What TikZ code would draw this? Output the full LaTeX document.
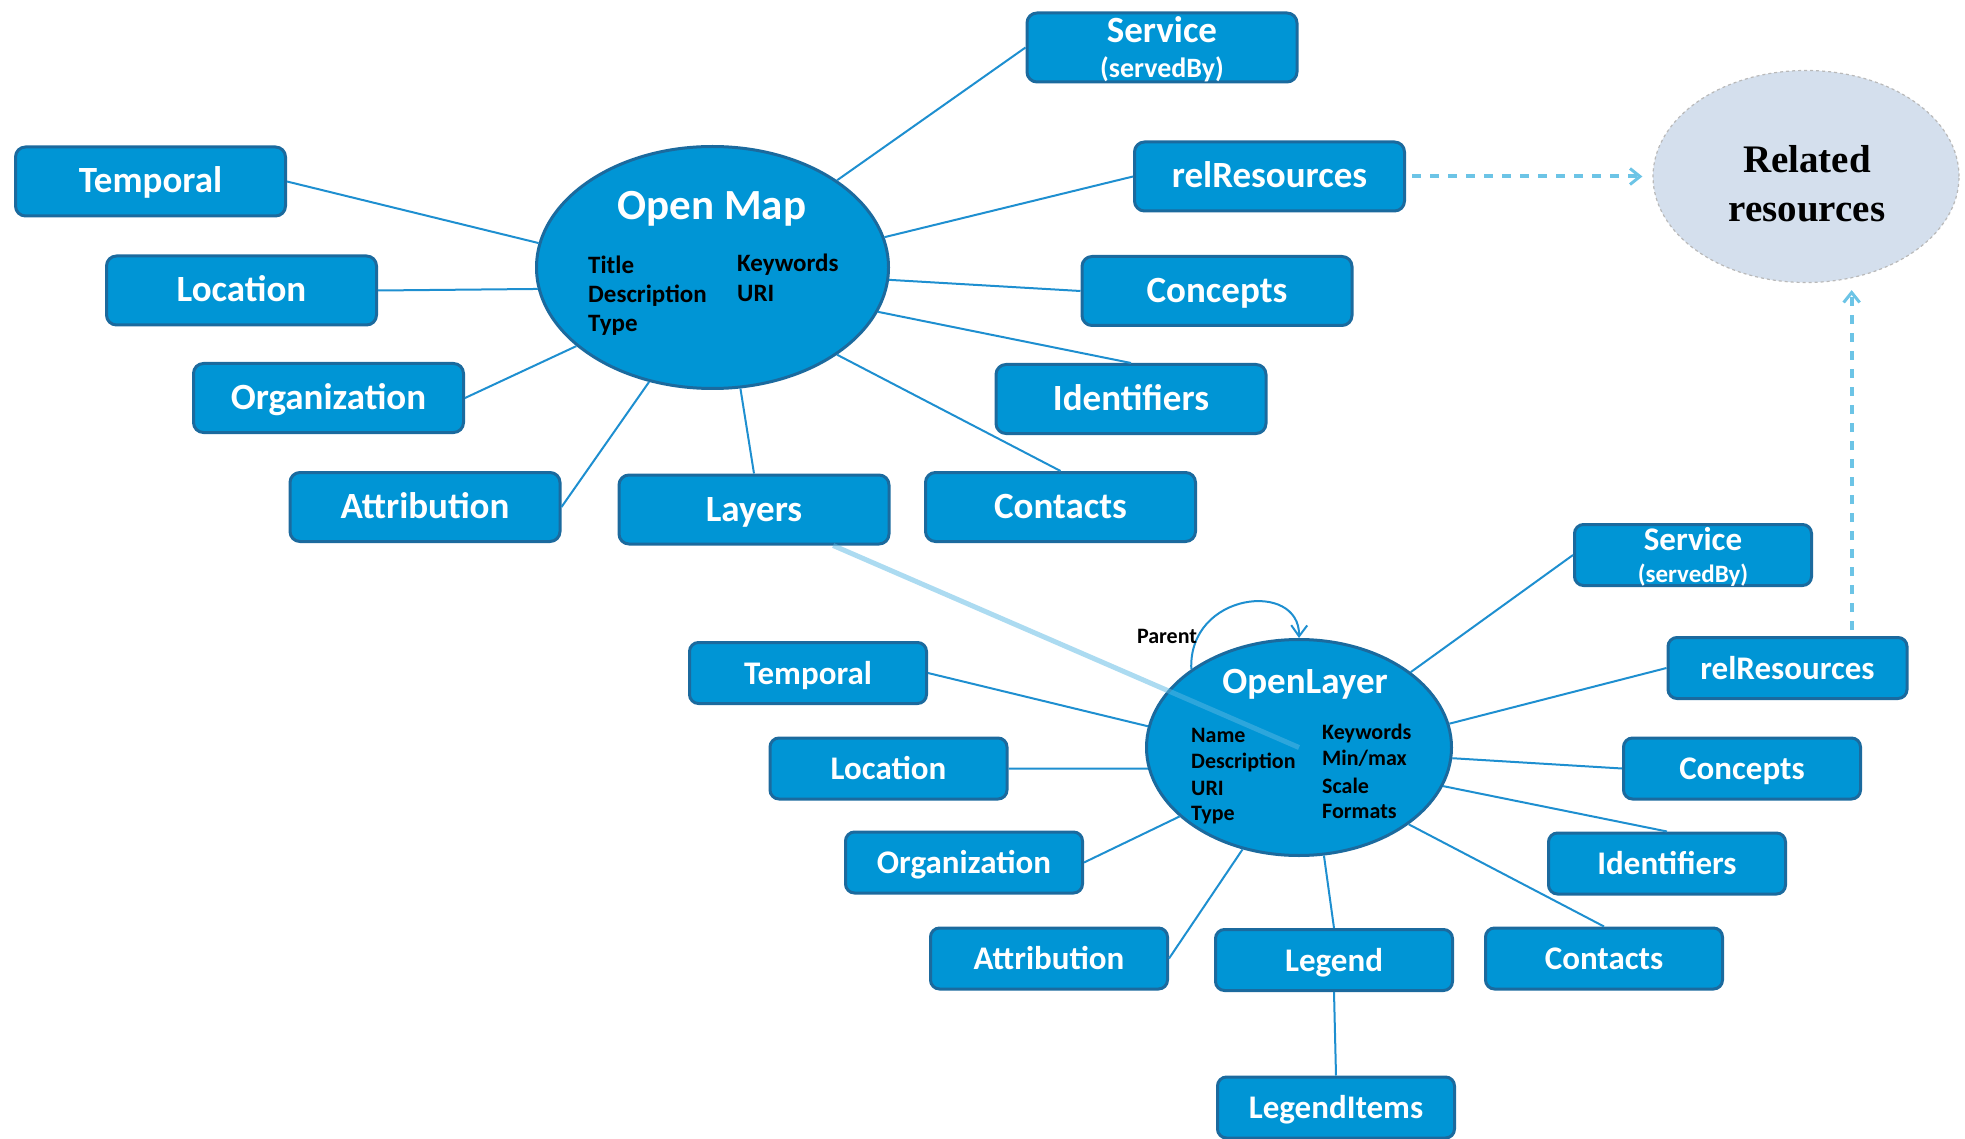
\documentclass[tikz,border=0pt]{standalone}
\usepackage{fontspec}
\setmainfont{Carlito}
\newfontfamily\serifbold{Liberation Serif}
\usetikzlibrary{shapes.geometric,arrows.meta,calc}
\definecolor{boxblue}{HTML}{0095D5}
\definecolor{boxedge}{HTML}{1B6A9E}
\definecolor{linkblue}{HTML}{1E8FD0}
\definecolor{dashblue}{HTML}{6CC4E6}
\definecolor{relfill}{HTML}{D4DFED}
\definecolor{layerlink}{HTML}{5AB8E3}
\begin{document}
\begin{tikzpicture}[x=1pt,y=-1pt,
  bigbox/.style={rectangle,rounded corners=10pt,fill=boxblue,draw=boxedge,line width=3pt,
    minimum width=270pt,minimum height=69pt,text=white,text height=30pt,text depth=7pt,
    font=\bfseries\fontsize{37}{40}\selectfont},
  smallbox/.style={rectangle,rounded corners=9pt,fill=boxblue,draw=boxedge,line width=3pt,
    minimum width=237pt,minimum height=61pt,text=white,text height=28pt,text depth=6pt,
    font=\bfseries\fontsize{33}{36}\selectfont},
  hub/.style={ellipse,fill=boxblue,draw=boxedge,line width=3pt,inner sep=0pt},
  link/.style={draw=linkblue,line width=2pt},
  dasharrow/.style={draw=dashblue,line width=4pt,dash pattern=on 9pt off 9pt,
    -{Straight Barb[length=10pt,width=16pt,line width=3pt]}},
  boxtext/.style={text=white,inner sep=0pt,anchor=base},
  itemA/.style={anchor=base west,inner sep=0pt,font=\bfseries\fontsize{25}{29}\selectfont},
  itemB/.style={anchor=base west,inner sep=0pt,font=\bfseries\fontsize{22}{26}\selectfont}]
\useasboundingbox (0,0) rectangle (1965,1139);

% ---------- Open Map hub ----------
\node[hub,minimum width=352pt,minimum height=242pt] (om) at (712.5,267.5) {};
\node[anchor=base,inner sep=0pt,text=white,font=\bfseries\fontsize{43}{47}\selectfont] (omtitle) at (712,220) {Open Map};
\node[itemA] (oma) at (588,274) {Title};
\node[itemA] (omb) at (588,303) {Description};
\node[itemA] (omc) at (588,332) {Type};
\node[itemA] (omd) at (737,272) {Keywords};
\node[itemA] (ome) at (737,302) {URI};

% ---------- boxes around Open Map ----------
\node[bigbox] (tservice) at (1162,47.5) {};
\node[boxtext,font=\bfseries\fontsize{37}{40}\selectfont] (tservicea) at (1162,43) {Service};
\node[boxtext,font=\bfseries\fontsize{28}{30}\selectfont] (tserviceb) at (1162,78) {(servedBy)};
\node[bigbox] (trel) at (1269.5,176.5) {relResources};
\node[bigbox] (tconc) at (1217,291) {Concepts};
\node[bigbox] (tident) at (1131,399) {Identifiers};
\node[bigbox] (tcont) at (1060.5,507) {Contacts};
\node[bigbox] (layers) at (754,509.5) {Layers};
\node[bigbox] (tattr) at (425,507) {Attribution};
\node[bigbox] (torg) at (328.5,398) {Organization};
\node[bigbox] (tloc) at (241.5,290.5) {Location};
\node[bigbox] (ttemp) at (150.5,181.5) {Temporal};

\draw[link] (om.35) -- (tservice.west);
\draw[link] (om.10) -- (trel.west);
\draw[link] (om.-4) -- (tconc.west);
\draw[link] (om.-15) -- (tident.north);
\draw[link] (om.-35) -- (tcont.north);
\draw[link] (om.-77) -- (layers.north);
\draw[link] (om.-119) -- (tattr.east);
\draw[link] (om.-150) -- (torg.east);
\draw[link] (om.-173) -- (tloc.east);
\draw[link] (om.172) -- (ttemp.east);

% ---------- OpenLayer hub ----------
\node[hub,minimum width=305pt,minimum height=216pt] (ol) at (1299,747.5) {};
\node[anchor=base,inner sep=0pt,text=white,font=\bfseries\fontsize{37}{40}\selectfont] (oltitle) at (1305,693) {OpenLayer};
\node[itemB] (ola) at (1191,742) {Name};
\node[itemB] (olb) at (1191,768) {Description};
\node[itemB] (olc) at (1191,795) {URI};
\node[itemB] (old) at (1191,820) {Type};
\node[itemB] (ole) at (1322,739) {Keywords};
\node[itemB] (olf) at (1322,765) {Min/max};
\node[itemB] (olg) at (1322,793) {Scale};
\node[itemB] (olh) at (1322,818) {Formats};

% ---------- boxes around OpenLayer ----------
\node[smallbox] (lservice) at (1693,555) {};
\node[boxtext,font=\bfseries\fontsize{33}{36}\selectfont] (lservicea) at (1693,550) {Service};
\node[boxtext,font=\bfseries\fontsize{25}{28}\selectfont] (lserviceb) at (1693,582) {(servedBy)};
\node[smallbox,minimum width=239pt] (lrel) at (1787.5,668) {relResources};
\node[smallbox] (lconc) at (1742,768.5) {Concepts};
\node[smallbox] (lident) at (1667,863.5) {Identifiers};
\node[smallbox] (lcont) at (1604,958.5) {Contacts};
\node[smallbox] (legend) at (1334,960) {Legend};
\node[smallbox] (litems) at (1336,1107.5) {LegendItems};
\node[smallbox] (lattr) at (1049,958.5) {Attribution};
\node[smallbox] (lorg) at (964,862.5) {Organization};
\node[smallbox] (lloc) at (888.5,768.5) {Location};
\node[smallbox] (ltemp) at (808,673) {Temporal};

\draw[link] (ol.34) -- (lservice.west);
\draw[link] (ol.9) -- (lrel.west);
\draw[link] (ol.-4) -- (lconc.west);
\draw[link] (ol.-15) -- (lident.north);
\draw[link] (ol.-35) -- (lcont.north);
\draw[link] (ol.-77) -- (legend.north);
\draw[link] (legend.south) -- (litems.north);
\draw[link] (ol.-119) -- (lattr.east);
\draw[link] (ol.-150) -- (lorg.east);
\draw[link] (ol.-172) -- (lloc.east);
\draw[link] (ol.172) -- (ltemp.east);

% parent self reference
\draw[draw=linkblue,line width=2pt,-{Straight Barb[length=11pt,width=16pt,line width=2pt]}]
  (ol.144) .. controls (1188,592) and (1300,580) .. (ol.90);
\node[anchor=base,inner sep=0pt,font=\bfseries\fontsize{22}{24}\selectfont] (parent) at (1167,643) {Parent};

% layer link between the two hubs
\draw[draw=layerlink,line width=5pt,opacity=0.5]
  ($(layers.south)!0.58!(layers.south east)$) -- (ol.center);

% ---------- related resources ----------
\node[ellipse,fill=relfill,draw=gray!55,dashed,line width=1.2pt,inner sep=0pt,
  minimum width=306pt,minimum height=212pt] (rel) at (1806,176.5) {};
\node[anchor=base,inner sep=0pt,font=\serifbold\bfseries\fontsize{39}{42}\selectfont] (rela) at (1807,173) {Related};
\node[anchor=base,inner sep=0pt,font=\serifbold\bfseries\fontsize{39}{42}\selectfont] (relb) at (1807,222) {resources};

\coordinate (lrelup) at ($(lrel.north)!0.53!(lrel.north east)$);
\draw[dasharrow,shorten <=6pt,shorten >=10pt] (trel.east) -- (rel.west);
\draw[dasharrow,shorten <=6pt,shorten >=7pt] (lrelup) -- (lrelup |- rel.south);
\end{tikzpicture}
\end{document}
